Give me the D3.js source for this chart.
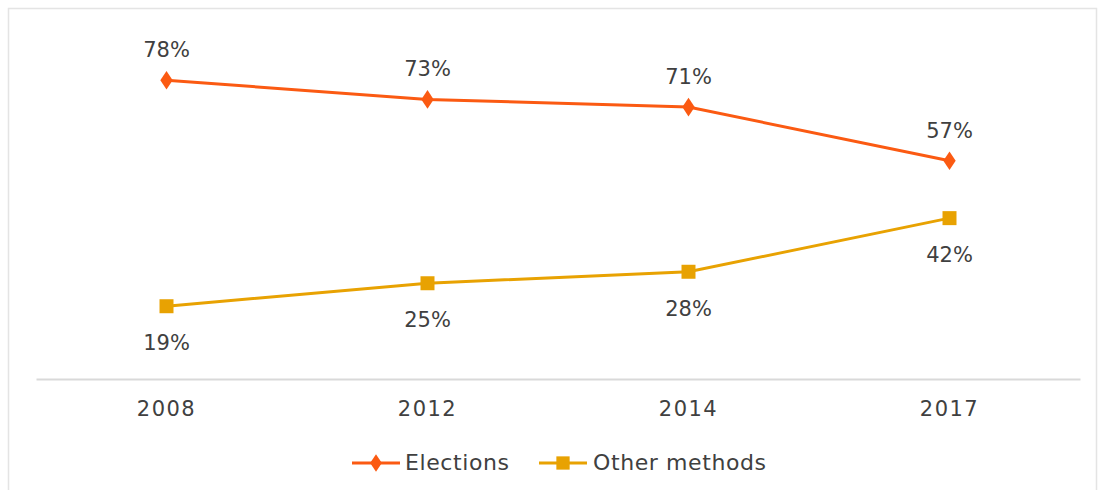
<!DOCTYPE html>
<html>
<head>
<meta charset="utf-8">
<script src="https://cdn.jsdelivr.net/npm/d3@7"></script>
<style>
  html, body { margin: 0; padding: 0; background: #fff; }
  svg { display: block; }
  text { font-family: "DejaVu Sans", sans-serif; fill: #404040; }
</style>
</head>
<body>
<script>
// Share of selections made by each method, by survey year
const years = ["2008", "2012", "2014", "2017"];
const elections = [78, 73, 71, 57];
const otherMethods = [19, 25, 28, 42];
const seriesNames = ["Elections", "Other methods"];
const seriesColors = ["#fb5a12", "#e8a202"];

const W = 1099, H = 490;
const svg = d3.select("body").append("svg").attr("width", W).attr("height", H);

// outer frame
svg.append("path")
  .attr("d", "M8.5,490 V8.5 H1096.5 V490")
  .attr("fill", "none").attr("stroke", "#e4e4e4").attr("stroke-width", 1.5);

const x = d3.scaleBand().domain(years).range([36, 1080]).padding(0);
const y = d3.scaleLinear().domain([0, 100]).range([379, -4]);
const cx = d => x(d) + x.bandwidth() / 2;

// category axis
const xAxis = svg.append("g").attr("transform", "translate(0,379)")
  .call(d3.axisBottom(x).tickSize(0).tickPadding(22));
xAxis.select(".domain").attr("stroke", "#d9d9d9").attr("stroke-width", 2);
xAxis.selectAll(".tick text")
  .attr("font-size", 21).attr("letter-spacing", 1.5)
  .style("font-family", "'DejaVu Sans', sans-serif").attr("fill", "#404040");

const series = [
  { name: seriesNames[0], values: elections, color: seriesColors[0], shape: d3.symbolDiamond, size: 100, labelDy: -23 },
  { name: seriesNames[1], values: otherMethods, color: seriesColors[1], shape: d3.symbolSquare, size: 196, labelDy: 44 }
];

const line = d3.line().x((d, i) => cx(years[i])).y(d => y(d));

series.forEach(s => {
  svg.append("path").datum(s.values)
    .attr("d", line).attr("fill", "none")
    .attr("stroke", s.color).attr("stroke-width", 3);
  svg.selectAll(null).data(s.values).enter().append("path")
    .attr("d", d3.symbol().type(s.shape).size(s.size))
    .attr("transform", (d, i) => `translate(${cx(years[i])},${y(d)})` + (s.shape === d3.symbolDiamond ? " scale(1.15,1)" : ""))
    .attr("fill", s.color);
  svg.selectAll(null).data(s.values).enter().append("text")
    .attr("x", (d, i) => cx(years[i]))
    .attr("y", d => y(d) + s.labelDy)
    .attr("text-anchor", "middle").attr("font-size", 21)
    .text(d => d + "%");
});

// legend
const legendItems = [
  { x: 352, textX: 405 },
  { x: 539, textX: 593 }
];
series.forEach((s, i) => {
  const g = svg.append("g").attr("transform", `translate(${legendItems[i].x},463)`);
  g.append("line").attr("x1", 0).attr("x2", 48).attr("stroke", s.color).attr("stroke-width", 3);
  g.append("path").attr("d", d3.symbol().type(s.shape).size(s.size * 0.9))
    .attr("transform", "translate(24,0)" + (s.shape === d3.symbolDiamond ? " scale(1.15,1)" : ""))
    .attr("fill", s.color);
  svg.append("text").attr("x", legendItems[i].textX).attr("y", 470)
    .attr("font-size", 22).attr("letter-spacing", 0.6).text(s.name);
});
</script>
</body>
</html>
